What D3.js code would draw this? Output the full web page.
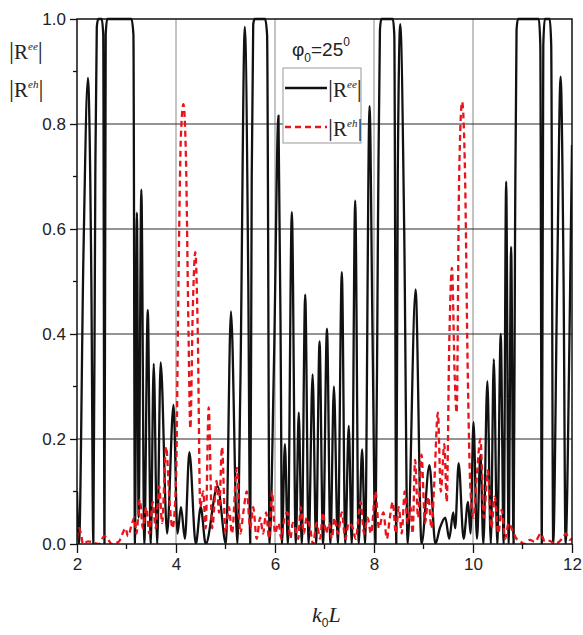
<!DOCTYPE html>
<html>
<head>
<meta charset="utf-8">
<script src="https://cdn.jsdelivr.net/npm/d3@7"></script>
<style>
  html, body { margin: 0; padding: 0; background: #fff; }
  svg { display: block; }
  .tick-label { font-family: 'Liberation Sans Narrow', 'Arial Narrow', 'Liberation Sans', Arial, sans-serif; font-size: 17px; fill: #222; }
  .serif { font-family: 'Liberation Serif', 'Times New Roman', serif; fill: #222; }
  .sans { font-family: 'Liberation Sans Narrow', 'Arial Narrow', 'Liberation Sans', Arial, sans-serif; fill: #222; }
</style>
</head>
<body>
<svg id="chart" width="583" height="635"></svg>
<script>
// |R^ee| versus k0L (solid black)
const kLee = [2.00, 2.04, 2.13, 2.22, 2.29, 2.33, 2.37, 2.40, 2.43, 2.50, 2.53, 2.555, 2.58, 2.61,
  3.10, 3.14, 3.17, 3.21, 3.245, 3.30, 3.36, 3.43, 3.49, 3.55, 3.62, 3.69, 3.82, 3.95, 4.03, 4.10, 4.18,
  4.27, 4.40, 4.50, 4.60, 4.84, 5.01, 5.11, 5.24, 5.30, 5.39, 5.46, 5.50, 5.53, 5.56, 5.59, 5.80, 5.84,
  5.89, 5.98, 6.07, 6.12, 6.14, 6.20, 6.26, 6.34, 6.42, 6.48, 6.54, 6.61, 6.68, 6.76, 6.83, 6.90, 6.97,
  7.05, 7.12, 7.19, 7.27, 7.35, 7.42, 7.49, 7.55, 7.62, 7.69, 7.76, 7.82, 7.91, 7.97, 8.03, 8.08, 8.12,
  8.15, 8.38, 8.41, 8.45, 8.48, 8.53, 8.61, 8.68, 8.84, 8.96, 9.12, 9.24, 9.33, 9.44, 9.52, 9.60, 9.64,
  9.71, 9.81, 9.90, 9.95, 10.01, 10.08, 10.15, 10.21, 10.29, 10.36, 10.42, 10.49, 10.56, 10.62, 10.67,
  10.72, 10.77, 10.82, 10.85, 10.88, 10.91, 11.33, 11.36, 11.39, 11.42, 11.45, 11.55, 11.58, 11.62,
  11.70, 11.77, 11.83, 11.87, 11.95, 12.00];
const Ree = [0.10, 0.00, 0.55, 0.888, 0.50, 0.00, 0.70, 0.985, 1.0, 1.0, 0.97, 0.00, 0.97, 1.0,
  1.0, 0.97, 0.00, 0.631, 0.05, 0.675, 0.00, 0.446, 0.00, 0.343, 0.00, 0.346, 0.02, 0.265, 0.02, 0.07, 0.01,
  0.175, 0.00, 0.07, 0.00, 0.11, 0.00, 0.443, 0.00, 0.30, 0.985, 0.50, 0.00, 0.70, 0.99, 1.0, 1.0, 0.97,
  0.00, 0.35, 0.816, 0.30, 0.00, 0.19, 0.00, 0.632, 0.00, 0.25, 0.00, 0.475, 0.00, 0.323, 0.00, 0.386, 0.00,
  0.41, 0.00, 0.30, 0.00, 0.518, 0.00, 0.225, 0.00, 0.654, 0.00, 0.18, 0.00, 0.834, 0.40, 0.00, 0.60, 0.98,
  1.0, 1.0, 0.97, 0.00, 0.70, 0.99, 0.60, 0.00, 0.485, 0.00, 0.15, 0.00, 0.03, 0.05, 0.01, 0.06, 0.03,
  0.154, 0.01, 0.08, 0.02, 0.232, 0.01, 0.17, 0.00, 0.31, 0.00, 0.352, 0.00, 0.40, 0.00, 0.69,
  0.00, 0.566, 0.00, 0.60, 0.98, 1.0, 1.0, 0.95, 0.00, 0.95, 1.0, 1.0, 0.95, 0.00,
  0.50, 0.89, 0.50, 0.00, 0.40, 0.76];

// |R^eh| versus k0L (dashed red)
const kLeh = [2.00, 2.04, 2.08, 2.12, 2.22, 2.32, 2.45, 2.55, 2.62, 2.70, 2.85, 2.92, 2.98, 3.03, 3.10,
  3.16, 3.20, 3.27, 3.33, 3.40, 3.46, 3.53, 3.59, 3.66, 3.72, 3.80, 3.87, 3.93, 4.00, 4.05, 4.10, 4.15,
  4.20, 4.25, 4.29, 4.34, 4.39, 4.44, 4.49, 4.55, 4.60, 4.66, 4.73, 4.82, 4.87, 4.93, 5.00, 5.07, 5.13,
  5.23, 5.30, 5.36, 5.43, 5.50, 5.56, 5.63, 5.70, 5.76, 5.82, 5.88, 5.94, 6.00, 6.07, 6.13, 6.19, 6.25,
  6.31, 6.36, 6.41, 6.47, 6.52, 6.58, 6.64, 6.71, 6.77, 6.84, 6.91, 6.97, 7.03, 7.09, 7.15, 7.20, 7.27,
  7.35, 7.42, 7.49, 7.57, 7.63, 7.73, 7.80, 7.87, 7.94, 8.03, 8.10, 8.19, 8.26, 8.32, 8.38, 8.44, 8.50,
  8.56, 8.62, 8.68, 8.74, 8.78, 8.83, 8.89, 8.96, 9.03, 9.10, 9.16, 9.22, 9.29, 9.35, 9.42, 9.47, 9.52,
  9.575, 9.63, 9.67, 9.72, 9.78, 9.84, 9.89, 9.95, 10.01, 10.07, 10.15, 10.22, 10.30, 10.37, 10.44, 10.51,
  10.58, 10.65, 10.72, 10.80, 10.88, 10.95, 11.05, 11.15, 11.25, 11.37, 11.45, 11.55, 11.65, 11.80,
  11.88, 11.95, 12.00];
const Reh = [0.01, 0.03, 0.02, 0.00, 0.005, 0.003, 0.00, 0.015, 0.01, 0.00, 0.005, 0.02, 0.03, 0.015, 0.035,
  0.05, 0.02, 0.085, 0.03, 0.07, 0.02, 0.08, 0.03, 0.11, 0.04, 0.185, 0.08, 0.03, 0.12, 0.50, 0.78, 0.838,
  0.74, 0.42, 0.22, 0.45, 0.556, 0.40, 0.07, 0.10, 0.03, 0.26, 0.03, 0.12, 0.06, 0.185, 0.02, 0.07, 0.02,
  0.145, 0.02, 0.06, 0.10, 0.03, 0.07, 0.01, 0.05, 0.02, 0.06, 0.01, 0.10, 0.02, 0.04, 0.01, 0.05, 0.06,
  0.01, 0.04, 0.03, 0.01, 0.07, 0.02, 0.05, 0.03, 0.00, 0.04, 0.01, 0.06, 0.02, 0.04, 0.01, 0.05, 0.02,
  0.06, 0.01, 0.04, 0.03, 0.01, 0.08, 0.02, 0.05, 0.02, 0.10, 0.03, 0.06, 0.01, 0.05, 0.08, 0.02, 0.07,
  0.02, 0.10, 0.04, 0.07, 0.02, 0.16, 0.05, 0.17, 0.04, 0.09, 0.03, 0.12, 0.25, 0.10, 0.19, 0.08, 0.38,
  0.526, 0.32, 0.25, 0.70, 0.842, 0.70, 0.35, 0.10, 0.05, 0.12, 0.20, 0.05, 0.14, 0.03, 0.09, 0.02,
  0.065, 0.01, 0.04, 0.025, 0.01, 0.005, 0.00, 0.008, 0.004, 0.02, 0.005, 0.006, 0.00, 0.01,
  0.02, 0.008, 0.01];

const xMajor = [2, 4, 6, 8, 10, 12];
const xMinor = [3, 5, 7, 9, 11];
const yMajor = [0.0, 0.2, 0.4, 0.6, 0.8, 1.0];
const yMinor = [0.1, 0.3, 0.5, 0.7, 0.9];
const xGrid = [4, 6, 8, 10];
const yGrid = [0.2, 0.4, 0.6, 0.8];

const svg = d3.select('#chart');
const pL = 77, pR = 572, pT = 19, pB = 544;
const x = d3.scaleLinear().domain([2, 12]).range([pL, pR]);
const y = d3.scaleLinear().domain([0, 1]).range([pB, pT]);

svg.append('defs').append('clipPath').attr('id', 'plotClip')
  .append('rect').attr('x', pL).attr('y', pT - 2).attr('width', pR - pL).attr('height', pB - pT + 2);

// grid
svg.append('g').selectAll('line').data(xGrid).join('line')
  .attr('x1', d => x(d)).attr('x2', d => x(d)).attr('y1', pT).attr('y2', pB)
  .attr('stroke', '#8a8a8a').attr('stroke-width', 1);
svg.append('g').selectAll('line').data(yGrid).join('line')
  .attr('x1', pL).attr('x2', pR).attr('y1', d => y(d)).attr('y2', d => y(d))
  .attr('stroke', '#2a2a2a').attr('stroke-width', 1.2);

const line = d3.line().curve(d3.curveMonotoneX).x(d => x(d[0])).y(d => y(d[1]));
const plot = svg.append('g').attr('clip-path', 'url(#plotClip)');
plot.append('path').datum(d3.zip(kLee, Ree)).attr('d', line)
  .attr('fill', 'none').attr('stroke', '#111').attr('stroke-width', 2.3).attr('stroke-linejoin', 'round');
plot.append('path').datum(d3.zip(kLeh, Reh)).attr('d', line)
  .attr('fill', 'none').attr('stroke', '#e8141c').attr('stroke-width', 2.3).attr('stroke-dasharray', '6,4');

// frame
svg.append('rect').attr('x', pL).attr('y', pT).attr('width', pR - pL).attr('height', pB - pT)
  .attr('fill', 'none').attr('stroke', '#111').attr('stroke-width', 1.5);

// x axis
const xAxis = d3.axisBottom(x).tickValues(xMajor).tickFormat(d3.format('d')).tickSize(9).tickPadding(5);
const gx = svg.append('g').attr('transform', `translate(0,${pB})`).call(xAxis);
gx.select('.domain').remove();
gx.attr('font-size', null).attr('font-family', null);
gx.selectAll('.tick line').attr('stroke', '#111').attr('stroke-width', 1.3);
gx.selectAll('.tick text').attr('class', 'tick-label').attr('fill', null);
gx.selectAll('.minor').data(xMinor).join('line').attr('class', 'minor')
  .attr('x1', d => x(d)).attr('x2', d => x(d)).attr('y1', 0).attr('y2', 5)
  .attr('stroke', '#111').attr('stroke-width', 1.3);

// y axis
const yAxis = d3.axisLeft(y).tickValues(yMajor).tickFormat(d3.format('.1f')).tickSize(7).tickPadding(4);
const gy = svg.append('g').attr('transform', `translate(${pL},0)`).call(yAxis);
gy.select('.domain').remove();
gy.attr('font-size', null).attr('font-family', null);
gy.selectAll('.tick line').attr('stroke', '#111').attr('stroke-width', 1.3);
gy.selectAll('.tick text').attr('class', 'tick-label').attr('fill', null);
gy.selectAll('.minor').data(yMinor).join('line').attr('class', 'minor')
  .attr('x1', 0).attr('x2', -4).attr('y1', d => y(d)).attr('y2', d => y(d))
  .attr('stroke', '#111').attr('stroke-width', 1.3);

// |R| symbol with superscript
function rLabel(g, px, py, sup) {
  const t = g.append('text').attr('class', 'serif').attr('x', px).attr('y', py).attr('font-size', 21);
  t.append('tspan').attr('font-size', 25).text('|');
  t.append('tspan').text('R');
  t.append('tspan').attr('dy', -9).attr('font-size', 11).attr('font-style', 'italic').text(sup);
  t.append('tspan').attr('dy', 9).attr('font-size', 25).text('|');
}

// y axis title
rLabel(svg, 9, 59, 'ee');
rLabel(svg, 9, 97, 'eh');

// x axis title
const xt = svg.append('text').attr('x', 312).attr('y', 622).attr('font-size', 22).attr('class', 'serif');
xt.append('tspan').attr('font-style', 'italic').text('k');
xt.append('tspan').attr('class', 'sans').attr('font-size', 12).attr('dy', 5).text('0');
xt.append('tspan').attr('font-style', 'italic').attr('dy', -5).text('L');

// angle annotation
const ang = svg.append('text').attr('class', 'sans').attr('x', 292).attr('y', 56).attr('font-size', 19);
ang.append('tspan').text('φ');
ang.append('tspan').attr('font-size', 12).attr('dy', 6).text('0');
ang.append('tspan').attr('dy', -6).text('=25');
ang.append('tspan').attr('font-size', 12).attr('dy', -10).text('0');

// legend
const lg = svg.append('g');
lg.append('rect').attr('x', 283).attr('y', 68).attr('width', 78).attr('height', 75)
  .attr('fill', '#fff').attr('stroke', '#999').attr('stroke-width', 1);
lg.append('line').attr('x1', 285).attr('x2', 327).attr('y1', 88).attr('y2', 88)
  .attr('stroke', '#111').attr('stroke-width', 2.3);
lg.append('line').attr('x1', 285).attr('x2', 327).attr('y1', 127).attr('y2', 127)
  .attr('stroke', '#e8141c').attr('stroke-width', 2.3).attr('stroke-dasharray', '6,4');
rLabel(lg, 328, 97, 'ee');
rLabel(lg, 328, 136, 'eh');
</script>
</body>
</html>
